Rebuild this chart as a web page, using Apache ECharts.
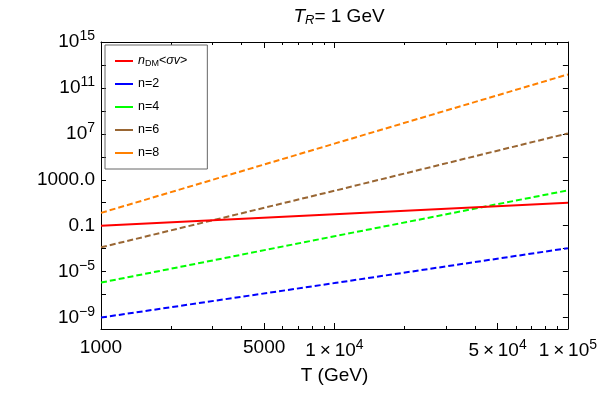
<!DOCTYPE html>
<html>
<head>
<meta charset="utf-8">
<script src="https://cdn.jsdelivr.net/npm/echarts@6/dist/echarts.min.js"></script>
<style>
  html, body { margin: 0; padding: 0; background: #fff; }
  #main { width: 600px; height: 393px; }
</style>
</head>
<body>
<div id="main"></div>
<script>
const temps = [1000, 10000, 100000];
// rates
const ndmSigmaV = [0.1, 1, 10];
const rateN2 = [1e-9, 1e-6, 1.1e-3];
const rateN4 = [1.1e-6, 1.2e-2, 1.2e2];
const rateN6 = [1.3e-3, 1.1e2, 1.1e7];
const rateN8 = [1.3, 1.4e6, 1.5e12];

const seriesNames = ["ndm", "n=2", "n=4", "n=6", "n=8"];
const seriesColors = ["#ff0000", "#0000ff", "#00ff00", "#996633", "#ff8000"];

// tick values
const xMajorTicks = [1000, 5000, 10000, 50000, 100000];
const xMinorTicks = [2000, 3000, 4000, 6000, 7000, 8000, 9000, 20000, 30000, 40000, 60000, 70000, 80000, 90000];
const yLabelTicks = [1e-9, 1e-5, 1e-1, 1e3, 1e7, 1e11, 1e15];
const yTicks = [1e-9, 1e-7, 1e-5, 1e-3, 1e-1, 1e1, 1e3, 1e5, 1e7, 1e9, 1e11, 1e13, 1e15];

const FONT = "Liberation Sans";

function pair(ys) {
  return temps.map((t, i) => [t, ys[i]]);
}

function yLabel(v) {
  let e = Math.round(Math.log10(v));
  if (e === 3) return "{b|1000.0}";
  if (e === -1) return "{b|0.1}";
  return "{b|10}{s|" + (e < 0 ? "\u2212" + (-e) : e) + "}";
}

function xLabel(v) {
  let e = Math.floor(Math.log10(v) + 1e-9);
  let m = Math.round(v / Math.pow(10, e));
  if (v < 10000) return "{b|" + v + "}";
  return "{b|" + m + "\u2009\u00d7\u200910}{s|" + e + "}";
}

const richLabels = {
  b: { fontFamily: FONT, fontSize: 19, color: "#000" },
  s: { fontFamily: FONT, fontSize: 14, color: "#000", padding: [0, 0, 11, 0] }
};

const frameLine = { show: true, lineStyle: { color: "#000", width: 1 } };

// tiny headroom so the 10^15 label is not dropped by float rounding
const Y_MIN = 1e-10, Y_MAX = 1.000001e15;

let chart = echarts.init(document.getElementById("main"));
chart.setOption({
  animation: false,
  title: {
    text: "{t|T}{r|R}{n|= 1 GeV}",
    left: 334,
    top: 1,
    textAlign: "center",
    textStyle: {
      fontWeight: "normal",
      rich: {
        t: { fontFamily: FONT, fontSize: 19, fontStyle: "italic", fontWeight: "normal", color: "#000" },
        r: { fontFamily: FONT, fontSize: 13, fontStyle: "italic", fontWeight: "normal", color: "#000", padding: [8, 0, 0, 0] },
        n: { fontFamily: FONT, fontSize: 19, fontWeight: "normal", color: "#000" }
      }
    }
  },
  grid: { left: 101, right: 32, top: 42, bottom: 64 },
  legend: {
    left: 105,
    top: 45,
    orient: "vertical",
    icon: "rect",
    itemWidth: 18,
    itemHeight: 2,
    itemGap: 7,
    padding: [8, 20, 8, 10],
    borderColor: "#666",
    borderWidth: 1,
    data: seriesNames,
    formatter: function (name) {
      if (name === "ndm") return "{i|n}{sub|DM}{p|<}{i|\u03c3v}{p|>}";
      return "{p|" + name + "}";
    },
    textStyle: {
      fontFamily: FONT,
      fontSize: 12,
      color: "#000",
      lineHeight: 16,
      rich: {
        p: { fontFamily: FONT, fontSize: 12.5, color: "#000", lineHeight: 16 },
        i: { fontFamily: FONT, fontSize: 12.5, fontStyle: "italic", color: "#000", lineHeight: 16 },
        sub: { fontFamily: FONT, fontSize: 9, color: "#000", padding: [5, 0, 0, 0] }
      }
    }
  },
  xAxis: [
    {
      type: "log", logBase: 10, min: 1000, max: 100000, position: "bottom",
      name: "T (GeV)", nameLocation: "middle", nameGap: 37,
      nameTextStyle: { fontFamily: FONT, fontSize: 19, color: "#000" },
      axisLine: frameLine,
      axisTick: { show: true, inside: true, length: 6, customValues: xMajorTicks, lineStyle: { color: "#000" } },
      axisLabel: { show: true, margin: 9, showMinLabel: true, showMaxLabel: true, customValues: xMajorTicks, formatter: xLabel, rich: richLabels },
      splitLine: { show: false }
    },
    {
      type: "log", logBase: 10, min: 1000, max: 100000, position: "bottom",
      axisLine: { show: false },
      axisTick: { show: true, inside: true, length: 3, customValues: xMinorTicks, lineStyle: { color: "#000" } },
      axisLabel: { show: false },
      splitLine: { show: false }
    },
    {
      type: "log", logBase: 10, min: 1000, max: 100000, position: "top",
      axisLine: frameLine,
      axisTick: { show: true, inside: true, length: 6, customValues: xMajorTicks, lineStyle: { color: "#000" } },
      axisLabel: { show: false },
      splitLine: { show: false }
    },
    {
      type: "log", logBase: 10, min: 1000, max: 100000, position: "top",
      axisLine: { show: false },
      axisTick: { show: true, inside: true, length: 3, customValues: xMinorTicks, lineStyle: { color: "#000" } },
      axisLabel: { show: false },
      splitLine: { show: false }
    }
  ],
  yAxis: [
    {
      type: "log", logBase: 10, min: Y_MIN, max: Y_MAX, position: "left",
      axisLine: frameLine,
      axisTick: { show: true, inside: true, length: 5, customValues: yTicks, lineStyle: { color: "#000" } },
      axisLabel: { show: true, margin: 6, showMinLabel: true, showMaxLabel: true, customValues: yLabelTicks, formatter: yLabel, rich: richLabels },
      splitLine: { show: false }
    },
    {
      type: "log", logBase: 10, min: Y_MIN, max: Y_MAX, position: "right",
      axisLine: frameLine,
      axisTick: { show: true, inside: true, length: 5, customValues: yTicks, lineStyle: { color: "#000" } },
      axisLabel: { show: false },
      splitLine: { show: false }
    }
  ],
  series: [
    { name: "ndm", data: pair(ndmSigmaV), solid: true },
    { name: "n=2", data: pair(rateN2) },
    { name: "n=4", data: pair(rateN4) },
    { name: "n=6", data: pair(rateN6) },
    { name: "n=8", data: pair(rateN8) }
  ].map(function (s, i) {
    return {
      name: s.name,
      type: "line",
      symbol: "none",
      xAxisIndex: 0,
      yAxisIndex: 0,
      data: s.data,
      itemStyle: { color: seriesColors[i] },
      lineStyle: { color: seriesColors[i], width: 2, type: s.solid ? "solid" : [6, 3] },
      z: 5 - i
    };
  })
});
</script>
</body>
</html>
